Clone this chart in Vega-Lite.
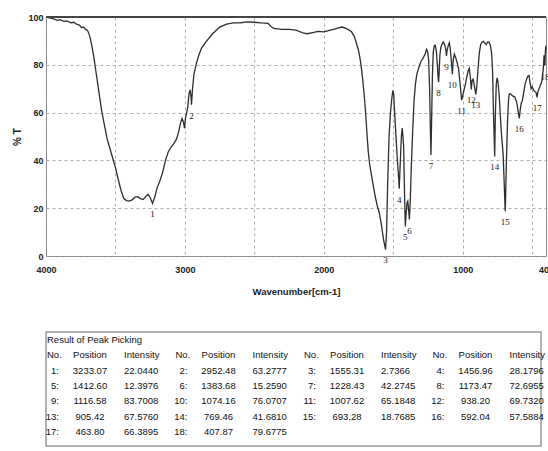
{
  "$schema": "https://vega.github.io/schema/vega-lite/v6.json",
  "background": "white",
  "padding": {"left": 12, "top": 12, "right": 0, "bottom": 0},
  "spacing": 35,
  "config": {"font": "Liberation Sans", "view": {"stroke": null}},
  "datasets": {
    "spectrum": [
      {"w": 4000, "t": 100}, {"w": 3950, "t": 99.3}, {"w": 3920, "t": 98.6}, {"w": 3900, "t": 98.9}, {"w": 3870, "t": 98.2}, {"w": 3850, "t": 98.4},
      {"w": 3820, "t": 97.6}, {"w": 3800, "t": 97.8}, {"w": 3780, "t": 97.0}, {"w": 3760, "t": 96.6}, {"w": 3745, "t": 95.6}, {"w": 3730, "t": 95.8},
      {"w": 3715, "t": 94.8}, {"w": 3700, "t": 94.3}, {"w": 3685, "t": 92}, {"w": 3670, "t": 88}, {"w": 3655, "t": 83}, {"w": 3640, "t": 77},
      {"w": 3620, "t": 69}, {"w": 3600, "t": 61}, {"w": 3580, "t": 55}, {"w": 3560, "t": 49}, {"w": 3540, "t": 45}, {"w": 3520, "t": 41},
      {"w": 3500, "t": 37}, {"w": 3480, "t": 32}, {"w": 3460, "t": 27.5}, {"w": 3440, "t": 24}, {"w": 3420, "t": 23.2}, {"w": 3400, "t": 23},
      {"w": 3380, "t": 23.5}, {"w": 3360, "t": 24.6}, {"w": 3340, "t": 24.8}, {"w": 3320, "t": 24}, {"w": 3300, "t": 23.6}, {"w": 3280, "t": 25},
      {"w": 3265, "t": 25.8}, {"w": 3250, "t": 24.5}, {"w": 3233.07, "t": 22.044}, {"w": 3215, "t": 25}, {"w": 3200, "t": 28.5}, {"w": 3180, "t": 31.5},
      {"w": 3160, "t": 35}, {"w": 3140, "t": 40}, {"w": 3120, "t": 43.5}, {"w": 3100, "t": 45.5}, {"w": 3080, "t": 47}, {"w": 3060, "t": 49},
      {"w": 3045, "t": 52}, {"w": 3030, "t": 56}, {"w": 3020, "t": 57.5}, {"w": 3010, "t": 56}, {"w": 3003, "t": 53.5}, {"w": 2995, "t": 58},
      {"w": 2980, "t": 62}, {"w": 2970, "t": 68}, {"w": 2962, "t": 69.5}, {"w": 2955, "t": 66}, {"w": 2952.48, "t": 63.2777}, {"w": 2945, "t": 70},
      {"w": 2935, "t": 76}, {"w": 2920, "t": 80}, {"w": 2900, "t": 84}, {"w": 2880, "t": 87}, {"w": 2850, "t": 89.5}, {"w": 2800, "t": 93},
      {"w": 2750, "t": 95.8}, {"w": 2700, "t": 97}, {"w": 2650, "t": 97.5}, {"w": 2600, "t": 97.6}, {"w": 2550, "t": 98}, {"w": 2500, "t": 97.8},
      {"w": 2450, "t": 97.5}, {"w": 2400, "t": 97.3}, {"w": 2380, "t": 96}, {"w": 2360, "t": 95.2}, {"w": 2300, "t": 94.8}, {"w": 2250, "t": 94.8},
      {"w": 2200, "t": 94.5}, {"w": 2150, "t": 93.4}, {"w": 2120, "t": 93}, {"w": 2080, "t": 93.5}, {"w": 2040, "t": 94}, {"w": 2000, "t": 93.8},
      {"w": 1960, "t": 94.4}, {"w": 1930, "t": 94.8}, {"w": 1900, "t": 95.3}, {"w": 1870, "t": 95.8}, {"w": 1840, "t": 95.2}, {"w": 1820, "t": 94.6},
      {"w": 1800, "t": 93.8}, {"w": 1780, "t": 91.8}, {"w": 1765, "t": 89}, {"w": 1750, "t": 86}, {"w": 1740, "t": 83}, {"w": 1730, "t": 79},
      {"w": 1720, "t": 74}, {"w": 1710, "t": 68}, {"w": 1700, "t": 61}, {"w": 1690, "t": 52}, {"w": 1680, "t": 44}, {"w": 1670, "t": 38.5},
      {"w": 1660, "t": 35}, {"w": 1645, "t": 30}, {"w": 1630, "t": 25}, {"w": 1615, "t": 21}, {"w": 1600, "t": 18}, {"w": 1585, "t": 13},
      {"w": 1570, "t": 7}, {"w": 1560, "t": 4}, {"w": 1555.31, "t": 2.7366}, {"w": 1548, "t": 10}, {"w": 1540, "t": 30}, {"w": 1530, "t": 50},
      {"w": 1520, "t": 60}, {"w": 1510, "t": 66}, {"w": 1503, "t": 69.2}, {"w": 1497, "t": 68}, {"w": 1490, "t": 60}, {"w": 1480, "t": 50},
      {"w": 1470, "t": 40}, {"w": 1465, "t": 36}, {"w": 1460, "t": 32}, {"w": 1456.96, "t": 28.1796}, {"w": 1452, "t": 35}, {"w": 1446, "t": 44},
      {"w": 1440, "t": 51}, {"w": 1435, "t": 53.5}, {"w": 1430, "t": 50}, {"w": 1425, "t": 46}, {"w": 1420, "t": 30}, {"w": 1415, "t": 17},
      {"w": 1412.6, "t": 12.3976}, {"w": 1408, "t": 17}, {"w": 1400, "t": 22.5}, {"w": 1395, "t": 23}, {"w": 1390, "t": 20}, {"w": 1383.68, "t": 15.259},
      {"w": 1378, "t": 22}, {"w": 1370, "t": 37}, {"w": 1360, "t": 52}, {"w": 1350, "t": 65}, {"w": 1340, "t": 72}, {"w": 1330, "t": 76},
      {"w": 1315, "t": 79}, {"w": 1300, "t": 81.5}, {"w": 1285, "t": 82.8}, {"w": 1270, "t": 84.5}, {"w": 1260, "t": 86.5}, {"w": 1252, "t": 85.5},
      {"w": 1245, "t": 82}, {"w": 1238, "t": 70}, {"w": 1232, "t": 52}, {"w": 1228.43, "t": 42.2745}, {"w": 1224, "t": 55}, {"w": 1218, "t": 75},
      {"w": 1212, "t": 85}, {"w": 1205, "t": 88}, {"w": 1198, "t": 88.2}, {"w": 1190, "t": 86}, {"w": 1182, "t": 80}, {"w": 1176, "t": 74},
      {"w": 1173.47, "t": 72.6955}, {"w": 1170, "t": 76}, {"w": 1164, "t": 84}, {"w": 1158, "t": 87}, {"w": 1150, "t": 88.5}, {"w": 1140, "t": 89.6},
      {"w": 1130, "t": 88.5}, {"w": 1122, "t": 86.5}, {"w": 1116.58, "t": 83.7008}, {"w": 1112, "t": 86}, {"w": 1104, "t": 88}, {"w": 1096, "t": 89.2},
      {"w": 1090, "t": 87}, {"w": 1082, "t": 82}, {"w": 1074.16, "t": 76.0707}, {"w": 1068, "t": 82}, {"w": 1060, "t": 84.5}, {"w": 1050, "t": 83},
      {"w": 1040, "t": 81}, {"w": 1030, "t": 78.5}, {"w": 1020, "t": 73}, {"w": 1012, "t": 68}, {"w": 1007.62, "t": 65.1848}, {"w": 1002, "t": 66.5},
      {"w": 990, "t": 69.5}, {"w": 980, "t": 72}, {"w": 970, "t": 75}, {"w": 960, "t": 77.5}, {"w": 952, "t": 78.5}, {"w": 945, "t": 75},
      {"w": 938.2, "t": 69.732}, {"w": 932, "t": 73.5}, {"w": 925, "t": 74}, {"w": 918, "t": 72}, {"w": 912, "t": 70}, {"w": 905.42, "t": 67.576},
      {"w": 898, "t": 71}, {"w": 890, "t": 78}, {"w": 880, "t": 85}, {"w": 870, "t": 88.5}, {"w": 860, "t": 89.5}, {"w": 850, "t": 89.8},
      {"w": 840, "t": 89}, {"w": 830, "t": 88.5}, {"w": 820, "t": 89.6}, {"w": 810, "t": 89.5}, {"w": 800, "t": 88}, {"w": 792, "t": 85},
      {"w": 785, "t": 78}, {"w": 778, "t": 60}, {"w": 772, "t": 47}, {"w": 769.46, "t": 41.681}, {"w": 765, "t": 58}, {"w": 758, "t": 72},
      {"w": 752, "t": 74.5}, {"w": 746, "t": 73}, {"w": 738, "t": 68}, {"w": 730, "t": 60}, {"w": 722, "t": 52}, {"w": 715, "t": 47},
      {"w": 708, "t": 42}, {"w": 702, "t": 32}, {"w": 697, "t": 24}, {"w": 693.28, "t": 18.7685}, {"w": 688, "t": 32}, {"w": 682, "t": 46},
      {"w": 676, "t": 58}, {"w": 670, "t": 65}, {"w": 664, "t": 67.8}, {"w": 655, "t": 67.8}, {"w": 640, "t": 67}, {"w": 625, "t": 66.5},
      {"w": 612, "t": 64.5}, {"w": 604, "t": 62}, {"w": 597, "t": 59}, {"w": 592.04, "t": 57.5884}, {"w": 586, "t": 61}, {"w": 578, "t": 64},
      {"w": 570, "t": 65}, {"w": 560, "t": 68.5}, {"w": 550, "t": 72}, {"w": 540, "t": 74}, {"w": 530, "t": 75.3}, {"w": 522, "t": 75.5},
      {"w": 515, "t": 72.5}, {"w": 507, "t": 70}, {"w": 500, "t": 70.8}, {"w": 490, "t": 69.5}, {"w": 480, "t": 68.8}, {"w": 472, "t": 68.5},
      {"w": 463.8, "t": 66.3895}, {"w": 458, "t": 68.8}, {"w": 450, "t": 70}, {"w": 440, "t": 71.5}, {"w": 430, "t": 73}, {"w": 420, "t": 78},
      {"w": 414, "t": 84}, {"w": 410, "t": 82}, {"w": 407.87, "t": 79.6775}, {"w": 405, "t": 85}, {"w": 402, "t": 88}, {"w": 400, "t": 86}
    ],
    "peaks": [
      {"no": 1, "position": 3233.07, "intensity": 22.044},
      {"no": 2, "position": 2952.48, "intensity": 63.2777},
      {"no": 3, "position": 1555.31, "intensity": 2.7366},
      {"no": 4, "position": 1456.96, "intensity": 28.1796},
      {"no": 5, "position": 1412.6, "intensity": 12.3976},
      {"no": 6, "position": 1383.68, "intensity": 15.259},
      {"no": 7, "position": 1228.43, "intensity": 42.2745},
      {"no": 8, "position": 1173.47, "intensity": 72.6955},
      {"no": 9, "position": 1116.58, "intensity": 83.7008},
      {"no": 10, "position": 1074.16, "intensity": 76.0707},
      {"no": 11, "position": 1007.62, "intensity": 65.1848},
      {"no": 12, "position": 938.2, "intensity": 69.732},
      {"no": 13, "position": 905.42, "intensity": 67.576},
      {"no": 14, "position": 769.46, "intensity": 41.681},
      {"no": 15, "position": 693.28, "intensity": 18.7685},
      {"no": 16, "position": 592.04, "intensity": 57.5884},
      {"no": 17, "position": 463.8, "intensity": 66.3895},
      {"no": 18, "position": 407.87, "intensity": 79.6775}
    ]
  },
  "vconcat": [
    {
      "width": 500,
      "height": 239,
      "view": {"stroke": "#888", "strokeWidth": 1},
      "layer": [
        {
          "data": {"name": "spectrum"},
          "mark": {"type": "line", "color": "#2e2e2e", "strokeWidth": 1.3},
          "encoding": {
            "x": {
              "field": "w", "type": "quantitative",
              "scale": {"domain": [4000, 400], "nice": false, "zero": false},
              "axis": {
                "values": [4000, 3500, 3000, 2500, 2000, 1500, 1000, 500, 400],
                "labelExpr": "datum.value % 1000 === 0 || datum.value === 400 ? datum.label : ''",
                "format": "d", "grid": true, "gridDash": [3, 3], "gridColor": "#999", "gridWidth": 0.8,
                "ticks": false, "domain": false, "labelOverlap": false, "labelFlush": false,
                "labelFont": "Liberation Sans", "labelFontWeight": "bold", "labelFontSize": 9, "labelColor": "#222", "labelPadding": 9,
                "title": "Wavenumber[cm-1]", "titleFont": "Liberation Sans", "titleFontSize": 9.5, "titleFontWeight": "bold", "titleColor": "#222", "titlePadding": 12
              }
            },
            "y": {
              "field": "t", "type": "quantitative",
              "scale": {"domain": [0, 100], "nice": false},
              "axis": {
                "values": [0, 20, 40, 60, 80, 100],
                "grid": true, "gridDash": [3, 3], "gridColor": "#999", "gridWidth": 0.8,
                "ticks": false, "domain": false,
                "labelFont": "Liberation Sans", "labelFontWeight": "bold", "labelFontSize": 9, "labelColor": "#222", "labelPadding": 3,
                "title": "% T", "titleFont": "Liberation Sans", "titleFontSize": 10, "titleFontWeight": "bold", "titleColor": "#222", "titlePadding": 5
              }
            }
          }
        },
        {
          "data": {"name": "peaks"},
          "mark": {"type": "text", "dy": 11, "font": "Liberation Serif", "fontSize": 9, "color": "#222"},
          "encoding": {
            "x": {"field": "position", "type": "quantitative"},
            "y": {"field": "intensity", "type": "quantitative"},
            "text": {"field": "no", "type": "nominal"}
          }
        },
        {
          "data": {"values": [{}]},
          "mark": {"type": "rule", "color": "#444", "strokeWidth": 2},
          "encoding": {"y": {"datum": 100}}
        }
      ]
    },
    {
      "width": 495,
      "height": 114,
      "view": {"stroke": "#999", "strokeWidth": 1.5},
      "data": {"name": "peaks"},
      "transform": [
        {"calculate": "(datum.no - 1) % 4", "as": "grp"},
        {"calculate": "floor((datum.no - 1) / 4)", "as": "row"},
        {"calculate": "datum.no + ':'", "as": "nolabel"}
      ],
      "encoding": {
        "x": {"field": "grp", "type": "quantitative", "scale": {"domain": [0, 3.852], "nice": false, "zero": false}, "axis": null},
        "y": {"field": "row", "type": "quantitative", "scale": {"domain": [-2.52, 4.92], "reverse": true, "nice": false, "zero": false}, "axis": null}
      },
      "layer": [
        {"mark": {"type": "text", "align": "right", "dx": 13, "fontSize": 9.5, "color": "#111"}, "encoding": {"text": {"field": "nolabel", "type": "nominal"}}},
        {"mark": {"type": "text", "align": "center", "dx": 44, "fontSize": 9.5, "color": "#111"}, "encoding": {"text": {"field": "position", "type": "quantitative", "format": ".2f"}}},
        {"mark": {"type": "text", "align": "left", "dx": 78, "fontSize": 9.5, "color": "#111"}, "encoding": {"text": {"field": "intensity", "type": "quantitative", "format": ".4f"}}},
        {"transform": [{"filter": "datum.no <= 4"}], "mark": {"type": "text", "align": "left", "dx": 1, "fontSize": 9.5, "color": "#111"}, "encoding": {"y": {"datum": -1}, "text": {"value": "No."}}},
        {"transform": [{"filter": "datum.no <= 4"}], "mark": {"type": "text", "align": "center", "dx": 44, "fontSize": 9.5, "color": "#111"}, "encoding": {"y": {"datum": -1}, "text": {"value": "Position"}}},
        {"transform": [{"filter": "datum.no <= 4"}], "mark": {"type": "text", "align": "left", "dx": 78, "fontSize": 9.5, "color": "#111"}, "encoding": {"y": {"datum": -1}, "text": {"value": "Intensity"}}},
        {"transform": [{"filter": "datum.no == 1"}], "mark": {"type": "text", "align": "left", "dx": 1, "fontSize": 9.5, "color": "#111"}, "encoding": {"y": {"datum": -2}, "text": {"value": "Result of Peak Picking"}}}
      ]
    }
  ]
}
